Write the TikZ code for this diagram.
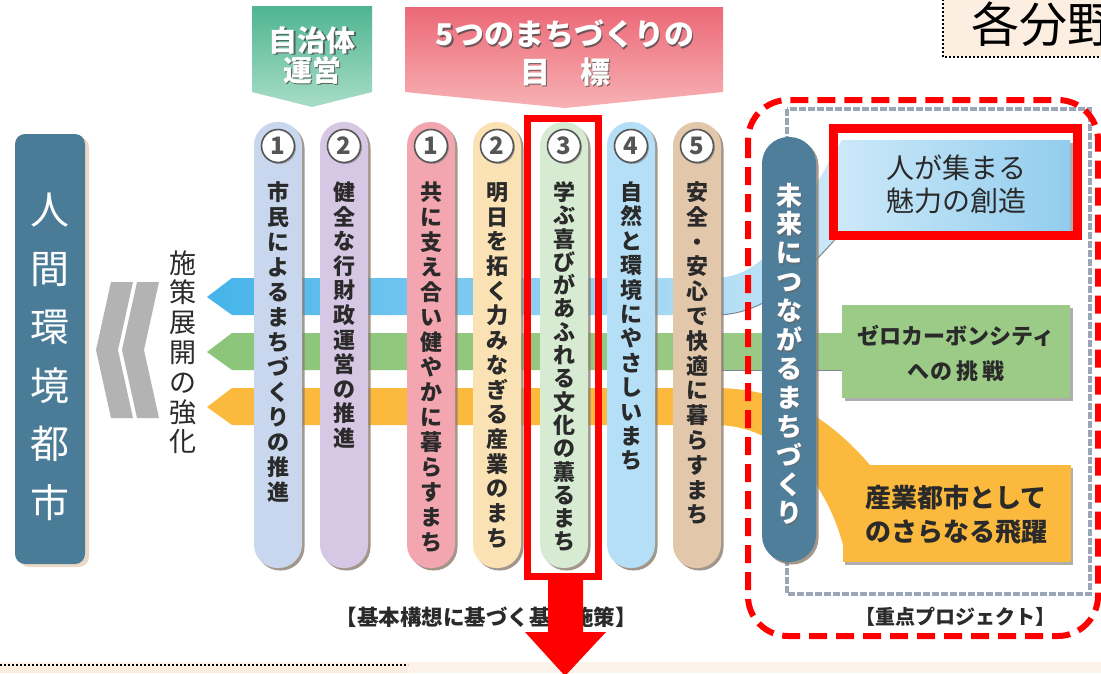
\documentclass[tikz,border=0pt]{standalone}
\usepackage{fontspec}
\newfontfamily\jp{Noto Sans CJK JP}
\usetikzlibrary{shadows}
\definecolor{hk}{HTML}{4A7C98}
\definecolor{hktan}{HTML}{D8B592}
\definecolor{pA}{HTML}{C8D6EE}
\definecolor{pB}{HTML}{D6C8E4}
\definecolor{pC}{HTML}{F3A6AF}
\definecolor{pD}{HTML}{FBE2B4}
\definecolor{pE}{HTML}{D7EAD2}
\definecolor{pF}{HTML}{B5DFF6}
\definecolor{pG}{HTML}{E2C7AA}
\definecolor{pshadow}{HTML}{8C7D70}
\definecolor{mirai}{HTML}{4F7E9B}
\definecolor{bbL}{HTML}{45B4EA}
\definecolor{bbR}{HTML}{CBE8F7}
\definecolor{bgL}{HTML}{8CC57A}
\definecolor{bgR}{HTML}{9BCB87}
\definecolor{bor}{HTML}{FBBA3E}
\definecolor{boxbL}{HTML}{CBE8F8}
\definecolor{boxbR}{HTML}{92CDEE}
\definecolor{boxg}{HTML}{9CCB88}
\definecolor{gdash}{HTML}{9AA6B8}
\definecolor{rd}{HTML}{FF0000}
\definecolor{htT}{HTML}{4FB592}
\definecolor{htB}{HTML}{A8DDC7}
\definecolor{hpT}{HTML}{EC6877}
\definecolor{hpB}{HTML}{F7B2B4}
\definecolor{chev}{HTML}{B3B3B3}
\definecolor{peach}{HTML}{FDEEE2}
\definecolor{peachL}{HTML}{FCF3EA}
\definecolor{txt}{HTML}{2A2A2A}
\definecolor{numgray}{HTML}{555555}
\definecolor{curve}{HTML}{7A8796}
\ExplSyntaxOn
\NewDocumentCommand\vtx{mm}{
  \tl_set:Nx \l_tmpa_tl {#2}
  \vtop{\baselineskip=#1\relax\lineskiplimit=-\maxdimen\lineskip=0pt\relax
    \tl_map_inline:Nn \l_tmpa_tl {\hbox_to_wd:nn {1.2em} {\hss ##1\hss}}}
}
\ExplSyntaxOff
\tikzset{
  jpf/.style={font=\jp\fontsize{#1}{#1}\selectfont},
  jpb/.style={font=\jp\bfseries\fontsize{#1}{#1}\selectfont},
  pill/.style={rectangle, minimum width=48, minimum height=446, rounded corners=23.5,
    inner sep=0, drop shadow={shadow xshift=2.5pt, shadow yshift=-2.5pt, fill=pshadow, opacity=.8}},
  numc/.style={circle, fill=white, draw=numgray, line width=1.6, minimum size=33, inner sep=0,
    jpb=24, text=numgray, drop shadow={shadow xshift=1.5pt, shadow yshift=-1.5pt, fill=gray, opacity=.6}},
  vtext/.style={anchor=base, inner sep=0, jpb=22, text=txt},
  hshadow/.style={text=black!70, opacity=.8},
  htext/.style={text=white},
  lbox/.style={rectangle, minimum width=228, inner sep=0,
    drop shadow={shadow xshift=2.5pt, shadow yshift=-2.5pt, fill=black!45, opacity=.7}},
  reddash/.style={draw=rd, line width=6, dash pattern=on 18 off 9, rounded corners=40},
  redbox/.style={draw=rd, line width=#1},
}
\begin{document}
\begin{tikzpicture}[x=1pt,y=-1pt]
\useasboundingbox (0,0) rectangle (1101,673);
\clip (0,0) rectangle (1101,673);
\fill[white] (0,0) rectangle (1101,673);

% bottom strip
\fill[peachL] (0,662) rectangle (1101,673);
\fill[peach] (0,665) rectangle (408,673);
\draw[black, line width=1.6, dash pattern=on 1.6 off 2.4] (0,665) -- (408,665);

% top right box
\draw[black, fill=peach, line width=1.6, dash pattern=on 1.6 off 2.4] (943,-5) rectangle (1110,57);
\node[anchor=west, inner sep=0, jpf=48, text=black] (bunya) at (971,24) {各分野};

% headers
\shade[top color=htT, bottom color=htB] (252,6) -- (372,6) -- (372,92) -- (312,107) -- (252,92) -- cycle;
\node[jpb=29, hshadow] at (313.5,41.5) {自治体};
\node[jpb=29, htext] (h1a) at (312,40) {自治体};
\node[jpb=29, hshadow] at (313.5,71.5) {運営};
\node[jpb=29, htext] (h1b) at (312,70) {運営};
\shade[top color=hpT, bottom color=hpB] (405,7) -- (723,7) -- (723,92) -- (565,108) -- (405,92) -- cycle;
\node[jpb=30, hshadow] at (566.5,35.5) {5つのまちづくりの};
\node[jpb=30, htext] (h2a) at (565,34) {5つのまちづくりの};
\node[jpb=30, hshadow] at (566.5,73.5) {目　標};
\node[jpb=30, htext] (h2b) at (565,72) {目　標};

% bands
\path[left color=bbL, right color=bbR] (207,297) -- (232,278) -- (715,278)
  .. controls (775,278) and (805,200) .. (842,140) -- (842,232)
  .. controls (805,272) and (770,315) .. (715,315) -- (232,315) -- cycle;
\draw[curve, line width=1] (842,232) .. controls (805,272) and (770,315) .. (715,315) -- (690,315);
\path[left color=bgL, right color=bgR] (207,352) -- (232,333) -- (842,333) -- (842,370) -- (232,370) -- cycle;
\draw[curve, line width=0.8] (690,370) -- (842,370);
\fill[bor] (207,407) -- (232,388) -- (715,388)
  .. controls (790,388) and (835,425) .. (870,465) -- (1000,465) -- (1000,545) -- (843,545)
  .. controls (828,488) and (785,425) .. (715,425) -- (232,425) -- cycle;

% chevrons
\fill[chev] (111,282) -- (133,282) -- (118,350) -- (133,418) -- (111,418) -- (96,350) -- cycle;
\fill[chev] (137,282) -- (159,282) -- (144,350) -- (159,418) -- (137,418) -- (122,350) -- cycle;
\node[vtext, jpf=27] (sesaku) at (183,273) {\vtx{29.8pt}{施策展開の強化}};

% left city box
\node[rectangle, fill=hk, minimum width=70, minimum height=430, rounded corners=10, inner sep=0,
  drop shadow={shadow xshift=4pt, shadow yshift=-3pt, fill=hktan}] (city) at (50,349) {};
\node[vtext, jpf=39, text=white] (citytxt) at (50,224.8) {\vtx{58.5pt}{人間環境都市}};

% gray dashed frame
\draw[gdash, line width=3.5, dash pattern=on 7 off 2] (787,109) rectangle (1090,594);

% pills
\foreach \cx/\col/\num/\txt/\sk [count=\i] in {
278/pA/1/市民によるまちづくりの推進/25,
344/pB/2/健全な行財政運営の推進/24.6,
431/pC/1/共に支え合い健やかに暮らすまち/25,
497/pD/2/明日を拓く力みなぎる産業のまち/24.7,
564/pE/3/学ぶ喜びがあふれる文化の薫るまち/23.3,
631/pF/4/自然と環境にやさしいまち/24.4,
697/pG/5/安全・安心で快適に暮らすまち/24.8}
{
  \node[pill, fill=\col] (pill\i) at (\cx,345) {};
  \node[numc] (num\i) at (\cx,146) {\num};
  \node[vtext] (txt\i) at (\cx,200.4) {\vtx{\sk pt}{\txt}};
}

% future pill
\node[rectangle, fill=mirai, minimum width=54, minimum height=425, rounded corners=26.5, inner sep=0,
  drop shadow={shadow xshift=2.5pt, shadow yshift=-2.5pt, fill=pshadow, opacity=.8}] (mirai) at (789,349.5) {};
\node[vtext, jpb=26, text=black!60, opacity=.7] at (790.5,206.5) {\vtx{28.9pt}{未来につながるまちづくり}};
\node[vtext, jpb=26, text=white] (miraitxt) at (789,205) {\vtx{28.9pt}{未来につながるまちづくり}};

% project boxes
\node[lbox, minimum height=92, left color=boxbL, right color=boxbR] (box1) at (956,186) {};
\node[jpf=28, text=txt] (b1a) at (956,168) {人が集まる};
\node[jpf=28, text=txt] (b1b) at (956,201) {魅力の創造};
\node[lbox, minimum height=93, fill=boxg] (box2) at (956,351.5) {};
\node[jpb=22, text=txt] (b2a) at (956,336) {ゼロカーボンシティ};
\node[jpb=22, text=txt] (b2b) at (956,371) {へ\kern2pt の\kern4pt 挑\kern4pt 戦};
\node[lbox, minimum height=97, fill=bor] (box3) at (956.5,513.5) {};
\node[jpb=26, text=txt] (b3a) at (956,498) {産業都市として};
\node[jpb=26, text=txt] (b3b) at (956,532) {のさらなる飛躍};

% captions
\node[jpb=21.5, text=txt] (cap1) at (486,617) {【基本構想に基づく基本施策】};
\node[jpb=20, text=txt] (cap2) at (955,617) {【重点プロジェクト】};

% red highlights
\draw[reddash] (748,100) rectangle (1098,636);
\draw[redbox=7] (527,118) rectangle (598,576);
\draw[redbox=9] (833,128) rectangle (1077,235);
\fill[rd] (548,579) -- (583,579) -- (583,632) -- (606,632) -- (565,676) -- (525,632) -- (548,632) -- cycle;
\end{tikzpicture}
\end{document}
